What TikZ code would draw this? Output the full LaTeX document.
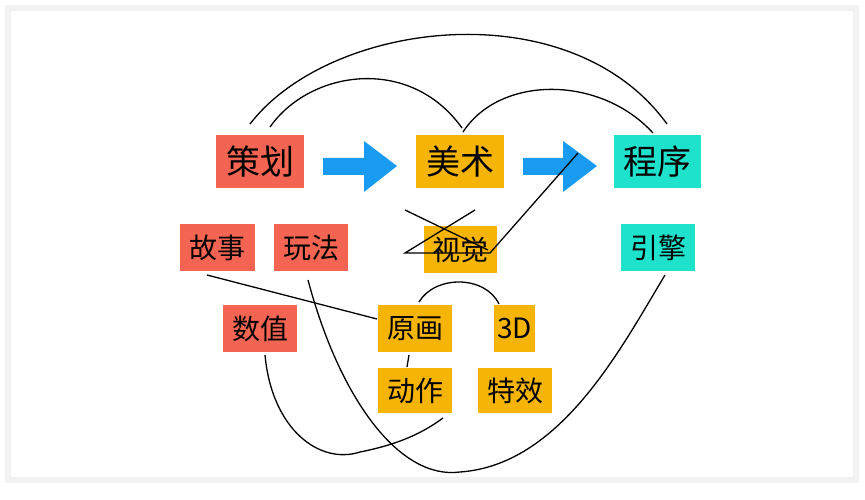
\documentclass[tikz,border=0pt]{standalone}
\usepackage{fontspec}
\newfontfamily\cjk{Noto Sans CJK SC}
\definecolor{cred}{HTML}{F46452}
\definecolor{corg}{HTML}{F6B506}
\definecolor{ccyan}{HTML}{1EE2CB}
\definecolor{cblue}{HTML}{1A9BF2}
\begin{document}
\begin{tikzpicture}[x=1pt,y=-1pt,
  box/.style={inner sep=0pt,anchor=north west,font=\cjk\fontsize{34}{34}\selectfont},
  sbox/.style={box,font=\cjk\fontsize{28}{28}\selectfont},
  link/.style={line width=1.3pt,black},
  bigarrow/.style={fill=cblue}]
\useasboundingbox (0,0) rectangle (865,500);
\draw[gray!10,line width=6pt] (8,8) rectangle (856,480);
% top nodes
\node[box,fill=cred,minimum width=88,minimum height=53] (ch) at (216,135) {策划};
\node[box,fill=corg,minimum width=88,minimum height=53] (ms) at (416,135) {美术};
\node[box,fill=ccyan,minimum width=87,minimum height=53] (cx) at (614,135) {程序};
% row 2
\node[sbox,fill=cred,minimum width=75,minimum height=47] (gs) at (180,224) {故事};
\node[sbox,fill=cred,minimum width=74,minimum height=47] (wf) at (274,224) {玩法};
\node[sbox,fill=corg,minimum width=73,minimum height=47] (sj) at (424,226) {视觉};
\node[sbox,fill=ccyan,minimum width=74,minimum height=47] (yq) at (621,224) {引擎};
% row 3
\node[sbox,fill=cred,minimum width=74,minimum height=47] (sz) at (223,305) {数值};
\node[sbox,fill=corg,minimum width=74,minimum height=47] (yh) at (378,305) {原画};
\node[sbox,fill=corg,minimum width=41,minimum height=47] (sd) at (494,305) {3D};
% row 4
\node[sbox,fill=corg,minimum width=74,minimum height=45] (dz) at (378,368) {动作};
\node[sbox,fill=corg,minimum width=74,minimum height=45] (tx) at (478,368) {特效};
% big arrows
\fill[bigarrow] (323,158) -- (364,158) -- (364,141) -- (397,166) -- (364,192) -- (364,175) -- (323,175) -- cycle;
\fill[bigarrow] (523,158) -- (563,158) -- (563,141) -- (597,166) -- (563,192) -- (563,175) -- (523,175) -- cycle;
% top arcs
\coordinate (t1) at (250,124); \coordinate (t2) at (667,124);
\coordinate (t3) at (270,127); \coordinate (t4) at (462,128);
\coordinate (t5) at (463,132); \coordinate (t6) at (653,133);
\draw[link] (t1) .. controls (330,20) and (570,-10) .. (t2);
\draw[link] (t3) .. controls (310,70) and (410,55) .. (t4);
\draw[link] (t5) .. controls (500,75) and (600,75) .. (t6);
% cross lines near 视觉
\draw[link] (405,210) -- (488,250);
\draw[link] (475,210) -- (405,253) -- (490,253) -- (578,153);
% lower links
\coordinate (g1) at (207,275); \coordinate (y1) at (377,319);
\draw[link] (g1) -- (y1);
\coordinate (y2) at (419,302); \coordinate (d3) at (499,304);
\draw[link] (y2) .. controls (435,275) and (485,275) .. (d3);
\coordinate (y3) at (409,355); \coordinate (dz1) at (407,367);
\draw[link] (y3) -- (dz1);
\coordinate (s1) at (265,355); \coordinate (dz2) at (443,418);
\draw[link] (s1) .. controls (272,430) and (320,465) .. (360,452) .. controls (395,445) and (420,435) .. (dz2);
\coordinate (w1) at (308,280); \coordinate (e1) at (665,275);
\draw[link] (w1) .. controls (340,400) and (400,480) .. (460,472) .. controls (560,465) and (620,350) .. (e1);
\end{tikzpicture}
\end{document}
